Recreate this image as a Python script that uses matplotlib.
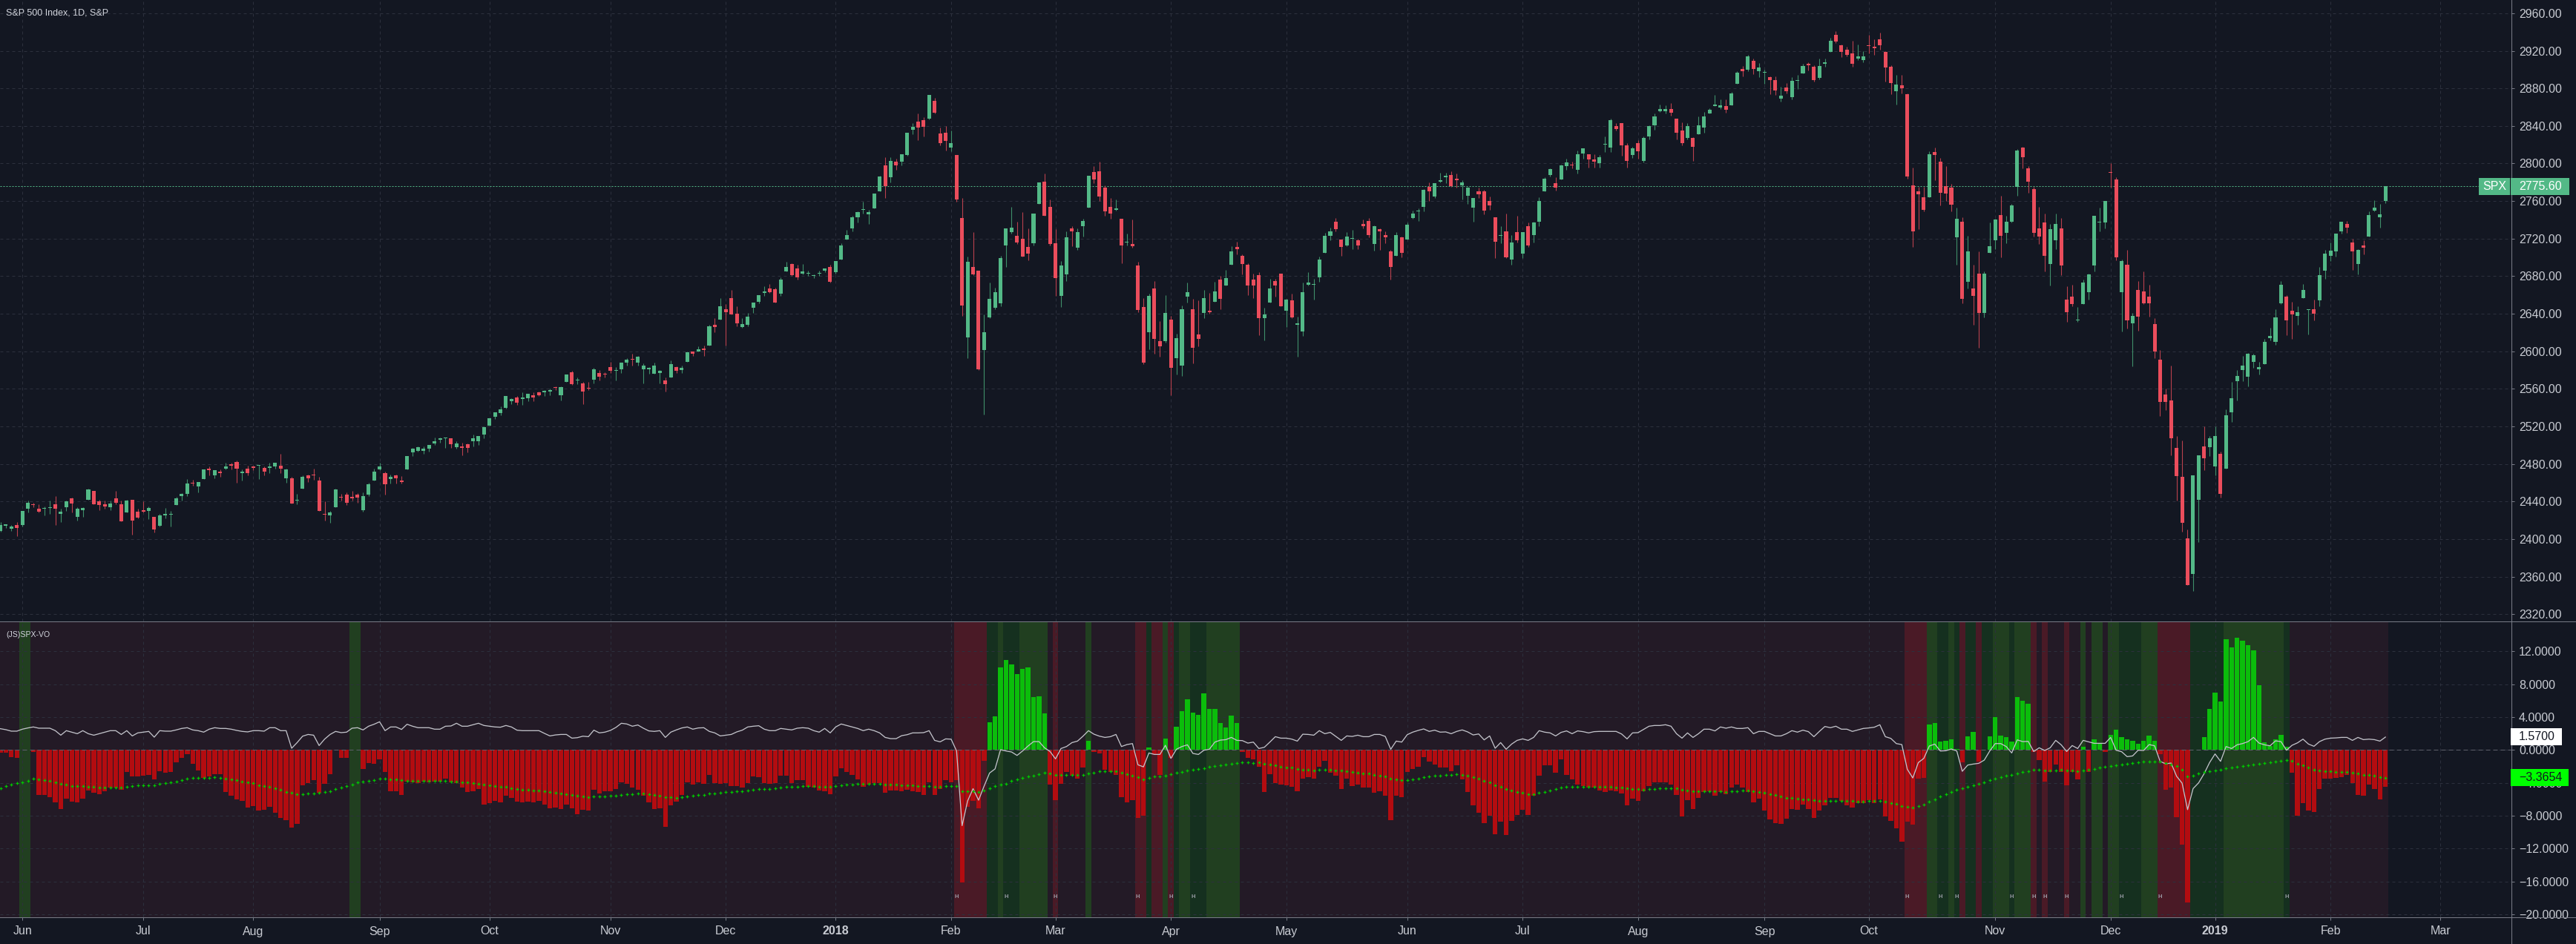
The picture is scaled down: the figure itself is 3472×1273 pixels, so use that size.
import matplotlib
matplotlib.use("Agg")
import matplotlib.pyplot as plt
import matplotlib.transforms as mtransforms
from matplotlib.patches import Rectangle
from matplotlib.lines import Line2D
import numpy as np

plt.rcParams['font.family'] = ['Liberation Sans', 'DejaVu Sans']

# ------------------------------------------------------------------ data
title = "S&P 500 Index, 1D, S&P"
indicator_name = "(JS)SPX-VO"
symbol = "SPX"

month_labels = ['Jun', 'Jul', 'Aug', 'Sep', 'Oct', 'Nov', 'Dec', '2018', 'Feb', 'Mar', 'Apr',
                'May', 'Jun', 'Jul', 'Aug', 'Sep', 'Oct', 'Nov', 'Dec', '2019', 'Feb', 'Mar']
# trading-day index (bar number) of the first session of each month; bar 0 = 2017-05-25
month_bar = [4, 26, 46, 69, 89, 111, 132, 152, 173, 192, 213, 234, 256, 277, 298, 321, 340,
             363, 384, 403, 424, 444]

price_ticks = [2320, 2360, 2400, 2440, 2480, 2520, 2560, 2600, 2640, 2680, 2720, 2760, 2800,
               2840, 2880, 2920, 2960]
osc_ticks = [-20, -16, -12, -8, -4, 0, 4, 8, 12]

opens = [
    2409, 2414, 2411, 2415, 2415, 2432, 2437, 2432, 2432, 2433,
    2437, 2427, 2434, 2443, 2424, 2431, 2442, 2451, 2440, 2437,
    2434, 2443, 2437, 2428, 2442, 2429, 2431, 2430, 2424, 2414,
    2425, 2426, 2436, 2446, 2448, 2460, 2456, 2464, 2475, 2468,
    2472, 2475, 2480, 2482, 2470, 2475, 2477, 2478, 2476, 2476,
    2477, 2478, 2465, 2465, 2441, 2454, 2468, 2469, 2462, 2427,
    2425, 2434, 2445, 2447, 2445, 2447, 2431, 2447, 2462, 2474,
    2470, 2464, 2468, 2462, 2474, 2492, 2494, 2494, 2496, 2502,
    2506, 2507, 2507, 2498, 2499, 2501, 2504, 2504, 2511, 2521,
    2530, 2534, 2540, 2547, 2551, 2549, 2550, 2553, 2556, 2556,
    2557, 2562, 2553, 2567, 2578, 2569, 2566, 2561, 2570, 2577,
    2576, 2583, 2579, 2581, 2588, 2592, 2588, 2581, 2581, 2576,
    2577, 2569, 2572, 2583, 2580, 2589, 2600, 2600, 2603, 2606,
    2628, 2634, 2645, 2657, 2640, 2626, 2628, 2646, 2653, 2662,
    2667, 2666, 2661, 2685, 2693, 2688, 2683, 2683, 2680, 2683,
    2686, 2690, 2684, 2698, 2719, 2731, 2743, 2751, 2746, 2752,
    2770, 2798, 2785, 2802, 2802, 2809, 2836, 2845, 2846, 2848,
    2867, 2832, 2833, 2817, 2809, 2742, 2615, 2690, 2686, 2601,
    2636, 2646, 2651, 2713, 2727, 2723, 2720, 2711, 2715, 2757,
    2781, 2754, 2715, 2659, 2682, 2731, 2710, 2733, 2753, 2791,
    2792, 2774, 2754, 2751, 2741, 2716, 2714, 2691, 2647, 2620,
    2667, 2611, 2611, 2634, 2593, 2585, 2658, 2645, 2618, 2641,
    2643, 2653, 2676, 2670, 2692, 2711, 2702, 2692, 2676, 2681,
    2635, 2652, 2675, 2683, 2643, 2654, 2628, 2621, 2671, 2671,
    2679, 2705, 2723, 2738, 2719, 2713, 2720, 2718, 2736, 2739,
    2714, 2730, 2724, 2706, 2702, 2721, 2719, 2742, 2749, 2754,
    2775, 2765, 2781, 2785, 2788, 2784, 2777, 2766, 2753, 2770,
    2770, 2760, 2743, 2723, 2728, 2698, 2727, 2704, 2733, 2724,
    2738, 2770, 2788, 2779, 2783, 2797, 2799, 2793, 2811, 2810,
    2804, 2800, 2820, 2817, 2840, 2843, 2819, 2809, 2822, 2803,
    2829, 2841, 2856, 2856, 2858, 2848, 2835, 2827, 2827, 2831,
    2838, 2853, 2861, 2860, 2861, 2862, 2885, 2901, 2900, 2909,
    2898, 2897, 2892, 2889, 2869, 2881, 2871, 2888, 2896, 2906,
    2903, 2891, 2906, 2919, 2937, 2926, 2921, 2917, 2912, 2910,
    2926, 2924, 2932, 2919, 2903, 2877, 2883, 2874, 2777, 2770,
    2764, 2764, 2812, 2802, 2776, 2774, 2721, 2738, 2674, 2667,
    2683, 2641, 2705, 2718, 2745, 2726, 2738, 2775, 2817, 2795,
    2773, 2731, 2737, 2693, 2718, 2731, 2655, 2658, 2633, 2650,
    2663, 2691, 2737, 2737, 2791, 2783, 2663, 2692, 2630, 2665,
    2664, 2658, 2629, 2591, 2554, 2548, 2497, 2466, 2401, 2363,
    2442, 2499, 2498, 2477, 2491, 2475, 2535, 2568, 2580, 2573,
    2589, 2581, 2586, 2614, 2610, 2651, 2658, 2643, 2638, 2657,
    2644, 2645, 2654, 2686, 2702, 2706, 2728, 2736, 2716, 2693,
    2713, 2722, 2750, 2743, 2760]

highs = [
    2418, 2416, 2415, 2418, 2430, 2441, 2439, 2437, 2435, 2441,
    2446, 2432, 2441, 2444, 2434, 2434, 2454, 2451, 2442, 2441,
    2441, 2451, 2441, 2442, 2442, 2432, 2440, 2435, 2424, 2427,
    2433, 2430, 2445, 2449, 2464, 2463, 2461, 2474, 2477, 2473,
    2474, 2481, 2481, 2484, 2474, 2478, 2478, 2479, 2477, 2481,
    2481, 2491, 2475, 2466, 2448, 2468, 2469, 2475, 2466, 2440,
    2430, 2454, 2448, 2450, 2451, 2449, 2450, 2460, 2475, 2481,
    2472, 2469, 2469, 2467, 2488, 2497, 2499, 2499, 2500, 2508,
    2508, 2508, 2507, 2504, 2503, 2502, 2511, 2510, 2520, 2529,
    2535, 2541, 2552, 2550, 2552, 2556, 2555, 2556, 2557, 2559,
    2560, 2563, 2563, 2575, 2579, 2572, 2567, 2567, 2582, 2580,
    2578, 2589, 2583, 2588, 2593, 2597, 2595, 2587, 2583, 2588,
    2580, 2572, 2590, 2584, 2585, 2600, 2600, 2605, 2606, 2628,
    2635, 2657, 2650, 2665, 2648, 2635, 2641, 2652, 2660, 2669,
    2672, 2668, 2679, 2695, 2694, 2692, 2693, 2686, 2682, 2686,
    2688, 2692, 2696, 2715, 2729, 2744, 2749, 2759, 2751, 2768,
    2787, 2807, 2807, 2805, 2810, 2833, 2843, 2853, 2849, 2873,
    2870, 2838, 2840, 2835, 2809, 2763, 2701, 2727, 2686, 2639,
    2673, 2668, 2702, 2731, 2754, 2738, 2748, 2731, 2747, 2780,
    2789, 2762, 2730, 2696, 2728, 2733, 2731, 2741, 2787, 2797,
    2802, 2777, 2763, 2762, 2741, 2725, 2740, 2695, 2657, 2661,
    2675, 2632, 2660, 2638, 2619, 2649, 2673, 2656, 2654, 2665,
    2662, 2674, 2680, 2687, 2712, 2717, 2703, 2694, 2683, 2684,
    2646, 2677, 2677, 2683, 2656, 2661, 2637, 2673, 2684, 2677,
    2701, 2726, 2732, 2742, 2719, 2727, 2729, 2720, 2740, 2742,
    2734, 2731, 2728, 2708, 2727, 2722, 2737, 2750, 2752, 2773,
    2780, 2779, 2790, 2790, 2792, 2789, 2782, 2775, 2763, 2774,
    2772, 2765, 2743, 2733, 2747, 2724, 2744, 2727, 2737, 2738,
    2764, 2785, 2795, 2785, 2799, 2805, 2802, 2814, 2816, 2810,
    2810, 2809, 2829, 2848, 2843, 2843, 2822, 2818, 2825, 2829,
    2841, 2853, 2863, 2862, 2864, 2848, 2844, 2843, 2828, 2850,
    2855, 2859, 2873, 2868, 2868, 2876, 2898, 2904, 2916, 2912,
    2907, 2900, 2893, 2893, 2882, 2886, 2892, 2894, 2906, 2908,
    2905, 2912, 2912, 2934, 2941, 2927, 2924, 2931, 2927, 2920,
    2937, 2932, 2939, 2920, 2905, 2894, 2894, 2875, 2796, 2775,
    2775, 2813, 2817, 2806, 2797, 2778, 2753, 2743, 2723, 2692,
    2706, 2685, 2737, 2741, 2766, 2744, 2757, 2815, 2818, 2797,
    2775, 2754, 2747, 2736, 2747, 2742, 2669, 2671, 2647, 2676,
    2683, 2744, 2753, 2760, 2800, 2785, 2698, 2708, 2641, 2675,
    2685, 2671, 2635, 2601, 2560, 2585, 2510, 2505, 2410, 2468,
    2489, 2520, 2510, 2520, 2493, 2538, 2567, 2580, 2595, 2598,
    2597, 2589, 2613, 2625, 2645, 2675, 2660, 2653, 2648, 2672,
    2645, 2655, 2690, 2708, 2716, 2725, 2738, 2739, 2720, 2709,
    2718, 2749, 2761, 2757, 2776]

lows = [
    2408, 2412, 2409, 2403, 2413, 2428, 2434, 2428, 2425, 2427,
    2415, 2418, 2430, 2428, 2420, 2424, 2442, 2437, 2431, 2432,
    2431, 2437, 2419, 2428, 2405, 2422, 2428, 2421, 2407, 2413,
    2422, 2413, 2436, 2441, 2446, 2457, 2450, 2464, 2468, 2465,
    2466, 2474, 2474, 2460, 2462, 2468, 2473, 2464, 2468, 2470,
    2475, 2470, 2460, 2438, 2437, 2454, 2461, 2463, 2430, 2420,
    2417, 2434, 2441, 2436, 2441, 2439, 2429, 2446, 2462, 2473,
    2447, 2459, 2459, 2459, 2474, 2488, 2493, 2491, 2493, 2500,
    2503, 2497, 2497, 2496, 2489, 2492, 2499, 2500, 2507, 2521,
    2528, 2532, 2539, 2544, 2543, 2543, 2547, 2547, 2552, 2552,
    2553, 2559, 2548, 2567, 2564, 2565, 2544, 2559, 2566, 2569,
    2572, 2577, 2569, 2577, 2585, 2585, 2585, 2566, 2576, 2576,
    2566, 2557, 2572, 2577, 2577, 2589, 2595, 2600, 2595, 2606,
    2620, 2634, 2606, 2639, 2627, 2625, 2627, 2641, 2651, 2659,
    2662, 2652, 2659, 2685, 2680, 2676, 2682, 2680, 2678, 2680,
    2684, 2673, 2683, 2698, 2719, 2728, 2737, 2747, 2736, 2752,
    2770, 2763, 2780, 2793, 2798, 2808, 2831, 2825, 2829, 2847,
    2853, 2819, 2814, 2813, 2759, 2638, 2593, 2681, 2580, 2533,
    2635, 2645, 2648, 2690, 2725, 2714, 2701, 2697, 2713, 2757,
    2744, 2713, 2659, 2647, 2675, 2712, 2708, 2722, 2753, 2779,
    2760, 2744, 2741, 2750, 2694, 2713, 2710, 2642, 2586, 2602,
    2597, 2594, 2609, 2553, 2575, 2574, 2652, 2587, 2605, 2635,
    2640, 2653, 2645, 2670, 2692, 2703, 2682, 2660, 2657, 2617,
    2612, 2652, 2658, 2648, 2626, 2635, 2594, 2616, 2670, 2655,
    2674, 2705, 2718, 2728, 2702, 2712, 2709, 2709, 2731, 2721,
    2707, 2708, 2715, 2676, 2702, 2700, 2719, 2741, 2739, 2749,
    2760, 2763, 2780, 2779, 2775, 2774, 2762, 2757, 2738, 2763,
    2746, 2751, 2699, 2715, 2699, 2692, 2716, 2699, 2711, 2716,
    2733, 2770, 2786, 2771, 2783, 2793, 2795, 2789, 2805, 2796,
    2796, 2796, 2812, 2812, 2835, 2808, 2796, 2806, 2805, 2801,
    2826, 2836, 2855, 2853, 2851, 2826, 2819, 2826, 2803, 2831,
    2833, 2853, 2861, 2858, 2854, 2862, 2885, 2893, 2898, 2895,
    2892, 2885, 2874, 2873, 2866, 2875, 2868, 2879, 2896, 2899,
    2887, 2890, 2903, 2919, 2928, 2913, 2914, 2903, 2910, 2908,
    2917, 2916, 2921, 2887, 2874, 2863, 2875, 2784, 2711, 2730,
    2749, 2764, 2782, 2755, 2760, 2749, 2692, 2651, 2667, 2628,
    2604, 2636, 2705, 2709, 2700, 2715, 2737, 2766, 2795, 2769,
    2722, 2714, 2685, 2670, 2709, 2681, 2631, 2648, 2631, 2650,
    2655, 2685, 2728, 2731, 2774, 2697, 2621, 2624, 2584, 2622,
    2650, 2637, 2593, 2531, 2537, 2489, 2441, 2408, 2351, 2345,
    2397, 2473, 2488, 2468, 2444, 2475, 2525, 2548, 2568, 2563,
    2582, 2575, 2586, 2612, 2607, 2650, 2617, 2613, 2628, 2657,
    2618, 2633, 2648, 2677, 2696, 2701, 2725, 2726, 2687, 2682,
    2703, 2722, 2749, 2732, 2758]

closes = [
    2415, 2416, 2413, 2412, 2430, 2439, 2436, 2429, 2433, 2434,
    2432, 2429, 2440, 2438, 2432, 2433, 2453, 2437, 2436, 2435,
    2438, 2439, 2419, 2441, 2420, 2423, 2429, 2433, 2410, 2425,
    2427, 2426, 2443, 2448, 2459, 2459, 2461, 2474, 2473, 2473,
    2470, 2477, 2478, 2475, 2472, 2470, 2476, 2478, 2472, 2477,
    2481, 2475, 2474, 2438, 2441, 2466, 2465, 2468, 2430, 2426,
    2428, 2453, 2444, 2439, 2443, 2444, 2446, 2458, 2472, 2477,
    2458, 2466, 2465, 2461, 2488, 2496, 2498, 2496, 2500, 2504,
    2507, 2508, 2501, 2502, 2497, 2497, 2507, 2510, 2519, 2529,
    2535, 2538, 2552, 2549, 2545, 2551, 2555, 2551, 2553, 2558,
    2559, 2561, 2562, 2575, 2565, 2569, 2557, 2560, 2581, 2573,
    2575, 2579, 2580, 2588, 2591, 2591, 2594, 2585, 2582, 2585,
    2579, 2565, 2586, 2579, 2582, 2599, 2597, 2602, 2601, 2627,
    2626, 2648, 2642, 2639, 2630, 2629, 2637, 2652, 2660, 2664,
    2663, 2652, 2676, 2690, 2681, 2679, 2685, 2683, 2681, 2683,
    2688, 2674, 2696, 2713, 2724, 2743, 2748, 2751, 2748, 2768,
    2786, 2776, 2803, 2798, 2810, 2833, 2839, 2838, 2839, 2873,
    2854, 2822, 2824, 2822, 2762, 2649, 2695, 2682, 2581, 2620,
    2656, 2663, 2699, 2731, 2732, 2716, 2701, 2704, 2747, 2780,
    2744, 2714, 2678, 2691, 2721, 2728, 2727, 2739, 2787, 2783,
    2765, 2749, 2747, 2752, 2713, 2717, 2712, 2644, 2588, 2659,
    2613, 2605, 2641, 2582, 2614, 2645, 2663, 2604, 2613, 2657,
    2642, 2664, 2656, 2678, 2706, 2709, 2693, 2670, 2670, 2635,
    2639, 2667, 2670, 2648, 2655, 2636, 2630, 2663, 2673, 2672,
    2698, 2723, 2728, 2730, 2711, 2722, 2720, 2713, 2733, 2724,
    2733, 2728, 2721, 2690, 2724, 2705, 2735, 2747, 2749, 2772,
    2770, 2779, 2782, 2787, 2776, 2782, 2780, 2774, 2763, 2767,
    2750, 2755, 2717, 2723, 2700, 2716, 2718, 2727, 2713, 2737,
    2760, 2784, 2794, 2774, 2798, 2801, 2798, 2810, 2816, 2804,
    2802, 2807, 2820, 2846, 2837, 2819, 2803, 2816, 2813, 2827,
    2840, 2850, 2858, 2858, 2854, 2833, 2822, 2840, 2818, 2841,
    2850, 2857, 2863, 2862, 2857, 2875, 2897, 2898, 2914, 2901,
    2902, 2897, 2889, 2878, 2872, 2877, 2888, 2889, 2904, 2905,
    2889, 2904, 2908, 2931, 2930, 2919, 2916, 2906, 2914, 2914,
    2925, 2923, 2926, 2902, 2886, 2884, 2880, 2786, 2728, 2767,
    2751, 2810, 2809, 2769, 2768, 2756, 2741, 2656, 2706, 2659,
    2641, 2683, 2712, 2740, 2723, 2738, 2755, 2814, 2807, 2781,
    2726, 2722, 2702, 2730, 2736, 2691, 2642, 2650, 2633, 2673,
    2682, 2744, 2738, 2760, 2790, 2700, 2696, 2633, 2638, 2637,
    2651, 2651, 2600, 2546, 2546, 2507, 2467, 2417, 2351, 2468,
    2489, 2486, 2507, 2510, 2448, 2532, 2550, 2574, 2585, 2597,
    2596, 2583, 2610, 2616, 2636, 2671, 2633, 2639, 2642, 2665,
    2644, 2640, 2681, 2704, 2707, 2725, 2738, 2732, 2706, 2708,
    2710, 2745, 2753, 2746, 2775.6]

# oscillator histogram
osc_hist = [
    -0.36, -0.36, -0.85, -0.95, 0, 0, -0.2, -5.5, -5.5, -5.7,
    -6.4, -7.2, -5.9, -6.3, -6.35, -5.9, -4.9, -5.2, -5.35, -5.05,
    -4.6, -4.6, -4.8, -2.65, -3.2, -3.2, -3.1, -3.0, -3.55, -2.6,
    -2.8, -2.65, -1.5, -1.0, -0.5, -1.7, -2.45, -3.4, -3.2, -2.9,
    -2.9, -5.1, -5.6, -6.0, -6.2, -7.0, -6.8, -7.4, -7.3, -6.9,
    -7.6, -8.3, -8.5, -9.4, -9.0, -4.3, -4.0, -3.7, -5.2, -4.1,
    -2.9, 0, -0.95, -1.0, 0, 0, -2.3, -1.6, -1.7, -1.15,
    -2.65, -5.0, -5.0, -5.5, -3.8, -3.9, -4.0, -3.8, -3.9, -3.8,
    -3.8, -3.5, -3.9, -4.0, -4.55, -5.1, -5.0, -4.75, -6.6, -6.5,
    -6.2, -6.4, -5.53, -5.8, -6.25, -6.4, -6.25, -6.4, -6.2, -6.6,
    -7.1, -7.0, -7.15, -6.6, -7.1, -7.8, -7.25, -7.4, -4.8, -5.3,
    -5.0, -5.0, -4.7, -3.9, -4.1, -4.6, -4.8, -5.6, -6.35, -7.15,
    -7.05, -9.3, -6.7, -6.25, -5.5, -3.9, -4.2, -3.9, -4.1, -3.0,
    -4.0, -4.1, -4.0, -4.35, -4.35, -4.6, -4.0, -3.2, -3.3, -4.0,
    -4.1, -4.0, -3.1, -3.1, -4.0, -3.7, -3.7, -4.45, -4.6, -4.9,
    -5.0, -5.35, -3.2, -2.2, -2.65, -3.0, -3.55, -4.45, -4.2, -4.0,
    -4.0, -5.2, -4.9, -4.9, -5.0, -4.8, -5.0, -5.1, -5.45, -3.95,
    -5.45, -4.7, -3.7, -3.9, -3.7, -16.1, -6.9, -6.2, -7.1, -1.3,
    3.4, 4.1, 10.0, 10.95, 10.4, 9.2, 9.9, 10.05, 6.4, 6.5,
    4.45, -4.2, -6.1, -4.1, -2.7, -3.1, -3.45, -2.1, 1.1, -0.2,
    -0.4, -2.4, -2.7, -3.0, -5.7, -6.35, -6.1, -8.25, -8.0, 0.3,
    -0.5, -3.0, 1.4, -1.0, 2.8, 4.7, 6.2, 4.5, 4.3, 6.9,
    5.0, 5.0, 3.3, 2.7, 4.2, 3.3, -0.2, -1.0, -1.1, -2.0,
    -5.1, -2.9, -4.0, -4.2, -4.3, -4.45, -5.0, -3.45, -3.3, -3.45,
    -2.0, -1.3, -2.8, -3.1, -4.7, -3.45, -4.35, -4.2, -4.55, -4.55,
    -5.2, -5.0, -5.55, -8.5, -5.6, -5.7, -2.65, -2.3, -2.0, -0.85,
    -1.4, -1.75, -2.1, -2.1, -2.55, -1.85, -3.55, -5.1, -6.7, -7.6,
    -8.9, -8.0, -10.2, -8.7, -10.3, -8.6, -7.9, -7.25, -7.9, -5.55,
    -3.1, -1.9, -1.85, -2.75, -1.1, -3.0, -3.55, -4.2, -4.35, -4.6,
    -4.55, -4.9, -5.1, -4.9, -5.0, -5.25, -6.7, -5.9, -6.15, -5.0,
    -4.35, -3.9, -3.9, -3.9, -4.2, -5.45, -8.05, -6.1, -7.15, -5.8,
    -5.1, -5.0, -5.55, -5.1, -5.35, -4.55, -4.2, -4.55, -5.1, -6.35,
    -5.9, -7.35, -8.4, -8.9, -8.95, -8.35, -7.15, -7.25, -6.6, -7.15,
    -8.25, -7.4, -6.7, -5.8, -5.8, -6.15, -6.7, -7.0, -6.5, -6.45,
    -6.1, -6.45, -6.0, -8.05, -8.6, -9.5, -11.1, -8.7, -9.05, -3.45,
    -3.35, 3.1, 3.3, 1.0, 1.1, 1.3, 0.1, -1.5, 1.65, 2.2,
    -1.4, 0, 1.65, 4.0, 1.75, 1.55, 1.0, 6.45, 6.0, 5.6,
    -0.2, -1.2, -3.8, -2.65, -1.75, -2.65, -4.25, -2.65, -3.55, 0.4,
    -2.65, 1.3, 0.85, -0.2, 1.85, 2.45, 1.55, 1.3, 1.1, 0.75,
    1.1, 1.75, 1.1, -0.55, -4.8, -4.55, -8.15, -11.5, -18.5, 0,
    0, 1.55, 5.0, 7.0, 5.9, 13.5, 12.5, 13.65, 13.3, 12.75,
    12.1, 7.9, 0.95, 0.45, 1.3, 1.85, 0.4, -2.75, -8.0, -6.45,
    -7.35, -7.5, -4.7, -3.45, -3.45, -3.35, -3.3, -3.0, -4.0, -5.45,
    -5.6, -4.2, -4.7, -6.0, -4.45]

# white line
osc_line = [
    2.59, 2.47, 2.29, 2.29, 2.53, 2.68, 2.80, 2.65, 2.65, 2.65,
    2.35, 1.80, 2.35, 2.17, 1.98, 2.35, 1.98, 1.80, 1.98, 2.17,
    2.35, 2.35, 1.89, 2.35, 1.71, 2.08, 2.17, 2.26, 1.56, 2.35,
    2.29, 2.29, 2.44, 2.62, 2.71, 2.44, 2.35, 2.17, 2.53, 2.71,
    2.62, 2.62, 2.53, 2.38, 2.26, 2.20, 2.35, 2.35, 2.29, 2.71,
    2.71, 2.35, 2.35, 0.21, 0.90, 1.68, 1.89, 1.80, 0.54, 1.32,
    1.89, 2.26, 2.11, 2.17, 2.65, 2.71, 2.44, 2.89, 3.13, 3.43,
    2.35, 2.80, 2.80, 2.50, 3.13, 2.89, 2.71, 2.71, 2.71, 2.53,
    2.53, 2.89, 2.92, 3.25, 2.89, 2.89, 3.07, 3.25, 2.98, 2.89,
    2.80, 2.77, 2.98, 2.80, 2.41, 2.35, 2.35, 2.35, 2.35, 2.02,
    1.71, 1.83, 1.89, 1.89, 1.44, 1.50, 1.68, 1.62, 2.41, 2.08,
    2.17, 2.38, 2.74, 3.25, 3.16, 2.89, 3.04, 2.65, 2.32, 2.26,
    2.35, 1.53, 2.17, 2.44, 2.68, 2.80, 2.53, 2.68, 2.71, 2.26,
    2.08, 1.71, 1.80, 1.89, 2.20, 2.41, 2.80, 2.89, 2.95, 2.53,
    2.35, 2.35, 2.62, 2.53, 2.44, 2.65, 2.71, 2.65, 2.35, 2.17,
    2.62, 2.08, 2.80, 3.16, 2.98, 2.80, 2.62, 2.35, 2.53, 2.35,
    2.08, 1.53, 1.38, 1.38, 1.74, 1.86, 2.08, 2.08, 2.11, 2.35,
    1.17, 0.99, 1.35, 1.32, -0.12, -9.2, -6.2, -4.7, -6.1, -4.4,
    -2.8, -2.3, 0.03, -0.12, -0.24, -0.66, -0.12, 0.48, 1.02, 1.02,
    0.27, -0.18, -1.08, 0.18, 0.42, 0.90, 1.08, 1.68, 2.35, 1.92,
    1.68, 1.53, 1.62, 1.89, 0.42, 0.66, 0.78, -1.80, -2.05, -0.36,
    -0.54, -0.54, 0.57, -1.02, 0.09, 0.42, 0.63, -0.42, -0.54, -0.03,
    0.09, 0.96, 1.20, 1.26, 1.53, 1.17, 1.14, 0.84, 0.96, 0.18,
    0.33, 0.96, 1.62, 1.44, 1.44, 1.32, 1.08, 1.92, 1.89, 1.80,
    2.35, 1.98, 2.14, 1.65, 1.17, 1.71, 1.65, 1.80, 1.62, 1.62,
    1.89, 1.89, 1.65, 0.09, 1.08, 0.96, 1.86, 2.17, 2.38, 2.56,
    2.26, 2.41, 2.17, 2.20, 1.98, 2.26, 2.44, 2.20, 1.83, 1.95,
    1.23, 1.71, 0.21, 0.90, 0.09, 0.72, 1.17, 1.35, 1.17, 1.53,
    2.35, 2.17, 2.08, 1.71, 2.14, 2.32, 1.98, 2.32, 2.23, 2.08,
    2.23, 2.26, 2.26, 2.26, 2.26, 1.95, 1.35, 2.08, 2.11, 2.50,
    2.89, 2.98, 2.98, 3.07, 2.89, 1.98, 1.44, 2.08, 1.53, 1.98,
    2.53, 2.53, 2.32, 2.80, 2.65, 2.80, 2.62, 2.62, 2.71, 1.98,
    2.26, 2.26, 1.98, 1.71, 1.71, 1.98, 2.35, 2.17, 2.41, 2.23,
    1.62, 2.26, 2.86, 2.71, 2.89, 2.53, 2.53, 2.26, 2.44, 2.62,
    2.68, 2.77, 3.07, 1.62, 1.41, 0.78, 0.66, -2.35, -3.40, -1.53,
    -1.02, 0.48, 0.72, -0.12, -0.09, 0.12, -0.12, -2.59, -1.83, -1.71,
    -1.62, -1.23, -0.12, 0.78, 0.78, 0.42, -0.36, 1.23, 1.02, 1.05,
    -0.18, 0.27, -0.06, 0.27, 1.17, 0.63, -0.18, 0.54, 0.18, 1.17,
    0.99, 0.81, 0.81, 0.81, 1.53, -0.03, -0.21, -0.81, -0.72, -0.03,
    -0.06, 0.66, 0.51, -1.38, -1.68, -1.59, -3.19, -4.03, -7.25, -4.69,
    -4.0, -2.89, -1.53, -0.48, -1.38, 0.42, 0.18, 0.63, 0.78, 1.02,
    1.53, 0.84, 0.63, 0.51, 1.11, 1.02, -0.03, 0.57, 0.87, 1.32,
    0.72, 0.45, 1.02, 1.32, 1.44, 1.47, 1.53, 1.53, 1.17, 1.53,
    1.26, 1.32, 1.26, 1.08, 1.57]

# green dotted signal
osc_signal = [
    -4.69, -4.39, -4.24, -4.03, -3.91, -3.73, -3.52, -3.61, -3.70, -3.76,
    -3.97, -4.09, -4.21, -4.36, -4.42, -4.42, -4.51, -4.51, -4.60, -4.60,
    -4.60, -4.60, -4.57, -4.45, -4.39, -4.33, -4.33, -4.27, -4.27, -4.15,
    -4.06, -3.97, -3.88, -3.70, -3.52, -3.43, -3.43, -3.40, -3.43, -3.34,
    -3.37, -3.46, -3.55, -3.70, -3.82, -3.97, -4.06, -4.27, -4.39, -4.51,
    -4.66, -4.87, -5.08, -5.23, -5.38, -5.41, -5.32, -5.26, -5.20, -5.11,
    -5.05, -4.78, -4.60, -4.39, -4.21, -3.97, -3.88, -3.79, -3.70, -3.52,
    -3.52, -3.61, -3.61, -3.70, -3.79, -3.79, -3.79, -3.76, -3.76, -3.76,
    -3.76, -3.76, -3.82, -3.85, -3.91, -3.94, -4.03, -4.09, -4.18, -4.33,
    -4.42, -4.45, -4.48, -4.63, -4.72, -4.81, -4.87, -4.96, -4.96, -5.05,
    -5.14, -5.23, -5.32, -5.41, -5.50, -5.59, -5.68, -5.77, -5.68, -5.68,
    -5.68, -5.59, -5.59, -5.50, -5.41, -5.41, -5.32, -5.32, -5.41, -5.50,
    -5.59, -5.77, -5.77, -5.86, -5.77, -5.68, -5.59, -5.50, -5.50, -5.32,
    -5.32, -5.23, -5.14, -5.14, -5.05, -5.05, -4.96, -4.87, -4.78, -4.78,
    -4.78, -4.69, -4.60, -4.51, -4.51, -4.51, -4.42, -4.42, -4.42, -4.51,
    -4.51, -4.51, -4.42, -4.33, -4.24, -4.24, -4.15, -4.15, -4.15, -4.15,
    -4.15, -4.24, -4.24, -4.24, -4.33, -4.33, -4.33, -4.39, -4.39, -4.39,
    -4.48, -4.48, -4.39, -4.39, -4.39, -4.99, -5.05, -5.05, -5.14, -4.96,
    -4.69, -4.39, -4.21, -4.09, -3.79, -3.61, -3.43, -3.25, -3.13, -2.95,
    -2.80, -2.89, -3.04, -3.04, -3.07, -3.07, -3.07, -3.07, -2.86, -2.74,
    -2.62, -2.62, -2.62, -2.62, -2.80, -2.98, -3.13, -3.34, -3.58, -3.43,
    -3.25, -3.19, -3.13, -2.98, -2.80, -2.68, -2.53, -2.41, -2.32, -2.20,
    -2.08, -1.98, -1.86, -1.77, -1.71, -1.62, -1.53, -1.53, -1.56, -1.53,
    -1.71, -1.74, -1.89, -2.05, -2.11, -2.17, -2.35, -2.44, -2.44, -2.53,
    -2.44, -2.44, -2.44, -2.47, -2.50, -2.62, -2.71, -2.80, -2.89, -2.89,
    -3.07, -3.16, -3.25, -3.52, -3.61, -3.70, -3.70, -3.61, -3.52, -3.34,
    -3.25, -3.16, -3.16, -3.07, -3.07, -2.98, -3.07, -3.16, -3.34, -3.52,
    -3.79, -3.97, -4.33, -4.51, -4.78, -4.96, -5.14, -5.23, -5.41, -5.41,
    -5.23, -5.14, -4.96, -4.78, -4.60, -4.51, -4.51, -4.51, -4.51, -4.51,
    -4.51, -4.51, -4.51, -4.51, -4.60, -4.60, -4.69, -4.78, -4.78, -4.87,
    -4.78, -4.78, -4.69, -4.69, -4.69, -4.69, -4.87, -4.96, -5.05, -5.05,
    -5.05, -5.05, -5.05, -5.05, -5.14, -5.05, -5.05, -4.96, -4.96, -5.05,
    -5.14, -5.23, -5.41, -5.50, -5.68, -5.86, -5.86, -5.95, -6.04, -6.04,
    -6.14, -6.23, -6.23, -6.23, -6.23, -6.23, -6.23, -6.23, -6.32, -6.32,
    -6.23, -6.23, -6.17, -6.26, -6.44, -6.59, -6.86, -6.95, -7.04, -6.86,
    -6.68, -6.32, -6.05, -5.68, -5.41, -5.14, -4.87, -4.69, -4.51, -4.33,
    -4.15, -3.97, -3.70, -3.52, -3.34, -3.16, -3.04, -2.89, -2.71, -2.62,
    -2.44, -2.44, -2.53, -2.53, -2.47, -2.44, -2.50, -2.53, -2.59, -2.47,
    -2.41, -2.29, -2.17, -2.05, -1.98, -1.86, -1.77, -1.68, -1.59, -1.50,
    -1.44, -1.44, -1.41, -1.38, -1.59, -1.77, -1.98, -2.44, -3.25, -3.10,
    -2.89, -2.71, -2.62, -2.53, -2.41, -2.26, -2.17, -2.05, -1.95, -1.86,
    -1.77, -1.68, -1.59, -1.53, -1.44, -1.35, -1.26, -1.35, -1.71, -1.89,
    -2.17, -2.44, -2.53, -2.62, -2.62, -2.71, -2.71, -2.71, -2.80, -2.89,
    -3.07, -3.07, -3.16, -3.34, -3.3654]

# background regime per bar: d = neutral, r = red, k = dark green, g = green
regime_runs = [('d', 4), ('g', 2), ('d', 58), ('g', 2), ('d', 108), ('r', 6), ('k', 2), ('g', 1),
               ('k', 3), ('g', 5), ('d', 1), ('r', 1), ('d', 5), ('g', 1), ('d', 8), ('r', 2),
               ('k', 1), ('r', 2), ('g', 1), ('r', 1), ('k', 1), ('g', 2), ('k', 3), ('g', 6),
               ('d', 121), ('r', 4), ('g', 2), ('k', 2), ('g', 1), ('k', 1), ('r', 1), ('k', 2),
               ('r', 1), ('k', 2), ('g', 3), ('k', 1), ('g', 3), ('r', 1), ('d', 1), ('r', 1),
               ('d', 3), ('r', 1), ('d', 2), ('g', 1), ('d', 1), ('g', 2), ('d', 1), ('g', 2),
               ('k', 4), ('g', 3), ('r', 6), ('k', 6), ('g', 11), ('k', 1), ('d', 18)]

# bars carrying the small "H" mark
h_bars = [174, 183, 192, 207, 213, 217, 347, 353, 356, 366, 370, 372, 376, 386, 393, 416]

# ------------------------------------------------------------------ checks
n = len(closes)
for arr in (opens, highs, lows, osc_hist, osc_line, osc_signal):
    assert len(arr) == n, (len(arr), n)
regime = ''.join(c * k for c, k in regime_runs)
assert len(regime) == n, len(regime)

# ------------------------------------------------------------------ style
BG = '#131722'
GRID = '#2c303d'
AXLINE = '#787b86'
TXT = '#c9ccd3'
UP, DN = '#53b987', '#eb4d5c'
UPW, DNW = '#3f8f6a', '#b9404d'
REG_COL = {'d': '#231a26', 'r': '#4a1a26', 'k': '#15301f', 'g': '#213f20'}
H_RED, H_GRN = '#b30c10', '#0bbd0b'

W, H = 3473, 1273
DPI = 100
PX = 72.0 / DPI

AX_R = 3385
SPLIT = 838
BOT = 1237
BAR_PX = 7.407
X0 = 0.5

fig = plt.figure(figsize=(W / DPI, H / DPI), dpi=DPI)
fig.patch.set_facecolor(BG)

ax = fig.add_axes([0, 1 - SPLIT / H, AX_R / W, SPLIT / H])
ax2 = fig.add_axes([0, 1 - BOT / H, AX_R / W, (BOT - SPLIT) / H])

xlim = (-X0 / BAR_PX, (AX_R - X0) / BAR_PX)
for a in (ax, ax2):
    a.set_facecolor(BG)
    a.set_xlim(*xlim)
    for s in a.spines.values():
        s.set_visible(False)
    a.set_xticks(month_bar)
    a.grid(True, color=GRID, linewidth=1 * PX, linestyle=(0, (4, 4)))
    a.set_axisbelow('line')

ax.set_ylim(2312.26, 2974.14)
ax2.set_ylim(-20.34, 15.63)

idx = np.arange(n)
o = np.array(opens, float)
hi = np.array(highs, float)
lo = np.array(lows, float)
c = np.array(closes, float)
up = c >= o

# candles
ax.vlines(idx, lo, hi, colors=[UPW if u else DNW for u in up], linewidth=1.1 * PX, zorder=2)
ax.bar(idx, np.maximum(np.abs(c - o), 0.8), bottom=np.minimum(o, c), width=0.68,
       color=[UP if u else DN for u in up], linewidth=0, zorder=3)

# last price line
ax.axhline(c[-1], color=UP, linewidth=1 * PX, linestyle=(0, (2, 2)), zorder=1.8)

# y axis (price)
ax.yaxis.tick_right()
ax.set_yticks(price_ticks)
ax.set_yticklabels([f'{v:.2f}' for v in price_ticks])
ax.tick_params(axis='y', length=4 * PX, width=1 * PX, color=AXLINE, pad=6 * PX,
               labelsize=11.5, labelcolor=TXT)
ax.tick_params(axis='x', length=0, labelbottom=False)

# indicator background regimes
ymin2, ymax2 = ax2.get_ylim()
ax2.bar(idx, ymax2 - ymin2, bottom=ymin2, width=1.0, color=[REG_COL[r] for r in regime],
        linewidth=0, antialiased=False, zorder=0)

# histogram
hv = np.array(osc_hist, float)
ax2.bar(idx, hv, width=0.86, color=[H_GRN if v > 0 else H_RED for v in hv], linewidth=0, zorder=2)
ax2.axhline(0, color='#5d606b', linewidth=1 * PX, linestyle=(0, (6, 4)), zorder=2.5)
ax2.plot(idx, osc_line, color='#c2c3ca', linewidth=1.3 * PX, zorder=3)
ax2.plot(idx, osc_signal, linestyle='none', marker='+', markersize=4 * PX,
         markeredgewidth=1.3 * PX, color='#00c400', zorder=4)

hb = mtransforms.blended_transform_factory(ax2.transData, ax2.transAxes)
for j in h_bars:
    ax2.text(j, 0.07, 'H', transform=hb, ha='center', va='center', fontsize=5.5,
             fontweight='bold', color='#9a9da6', zorder=5)

ax2.yaxis.tick_right()
ax2.set_yticks(osc_ticks)
ax2.set_yticklabels([f'{v:.4f}'.replace('-', '\u2212') for v in osc_ticks])
ax2.tick_params(axis='y', length=4 * PX, width=1 * PX, color=AXLINE, pad=6 * PX,
                labelsize=11.5, labelcolor=TXT)
ax2.set_xticklabels(month_labels)
ax2.tick_params(axis='x', length=4 * PX, width=1 * PX, color=AXLINE, pad=7.5 * PX,
                labelsize=11.5, labelcolor=TXT)
for lab in ax2.get_xticklabels():
    if lab.get_text() in ('2018', '2019'):
        lab.set_fontweight('bold')

# frame lines
def fyy(py):
    return 1 - py / H

fig.add_artist(Line2D([(AX_R + 0.5) / W] * 2, [0, 1], transform=fig.transFigure,
                      color=AXLINE, linewidth=1 * PX, zorder=6))
for py in (SPLIT, BOT):
    fig.add_artist(Line2D([0, 1], [fyy(py)] * 2, transform=fig.transFigure,
                          color=AXLINE, linewidth=1 * PX, zorder=6))

# titles
fig.text(8 / W, fyy(17), title, ha='left', va='center', fontsize=9, color='#d1d4dc')
fig.text(8 / W, fyy(856), indicator_name, ha='left', va='center', fontsize=7.6, color='#d1d4dc')

# value labels on the scales
def y_frac(axis, v):
    return axis.transData.transform((0, v))[1] / H

def tag(x0, x1, yf, fc, text, tc, ha='left', tx=None, hpx=23):
    fig.add_artist(Rectangle((x0 / W, yf - hpx / 2 / H), (x1 - x0) / W, hpx / H,
                             transform=fig.transFigure, facecolor=fc, edgecolor='none',
                             zorder=10))
    fig.text((tx if tx is not None else x0 + 11) / W, yf, text, ha=ha, va='center',
             fontsize=11.5, color=tc, zorder=11)

yp = y_frac(ax, c[-1])
tag(3341, 3383, yp, UP, symbol, 'white', ha='center', tx=3362)
tag(3384, 3463, yp, UP, f'{c[-1]:.2f}', 'white')
tag(3384, 3453, y_frac(ax2, osc_line[-1]), '#ffffff', f'{osc_line[-1]:.4f}', '#131722')
tag(3384, 3462, y_frac(ax2, osc_signal[-1]), '#00ff00',
    f'{osc_signal[-1]:.4f}'.replace('-', '\u2212'), '#131722')

fig.savefig('out.png', dpi=DPI, facecolor=BG)
